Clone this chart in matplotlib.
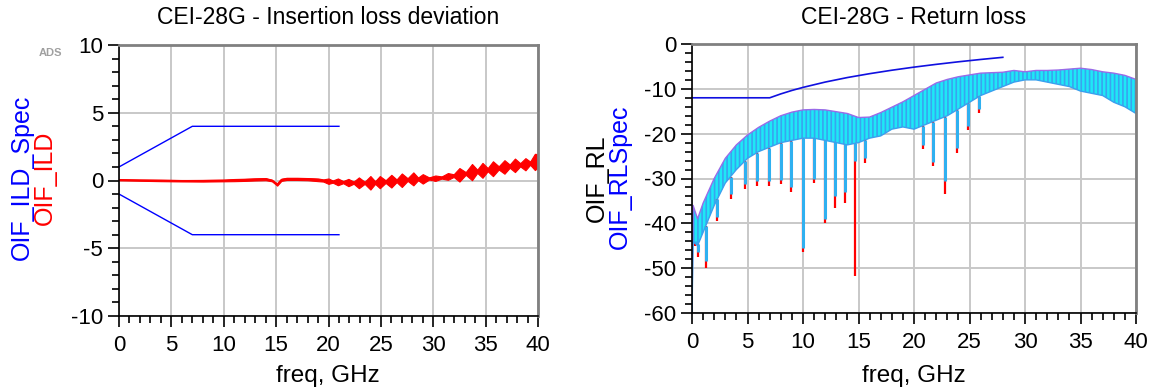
# -*- coding: utf-8 -*-
import matplotlib
matplotlib.use("Agg")
import matplotlib.pyplot as plt
import numpy as np
from matplotlib.ticker import MultipleLocator

plt.rcParams["font.family"] = ["Liberation Sans", "DejaVu Sans"]
plt.rcParams["axes.unicode_minus"] = False  # ADS prints a plain hyphen
plt.rcParams["hatch.linewidth"] = 1.2

# ---- Insertion loss deviation (left) ----
ild_spec_freq = [0, 7, 21]
ild_spec_upper = [1, 4, 4]
ild_spec_lower = [-1, -4, -4]

ild_freq = [0, 2, 4, 6, 8, 10, 11, 12, 13, 14,
            14.6, 15.1, 15.5, 16, 17, 18, 19, 19.5,
            20, 20.4, 20.9, 21.4, 21.9, 22.4, 22.9, 23.45, 24.0, 24.45,
            24.9, 25.45, 26.0, 26.5, 27.0, 27.55, 28.1, 28.55, 29.0, 29.6,
            30.2, 30.8, 31.4, 31.95, 32.5, 33.1, 33.7, 34.2, 34.7, 35.2,
            35.7, 36.25, 36.8, 37.3, 37.8, 38.3, 38.8, 39.25, 39.7, 40]
ild_mid = [0.05, 0.02, 0.0, -0.02, -0.02, 0.0, 0.03, 0.05, 0.08, 0.1,
           0.0, -0.3, 0.05, 0.12, 0.12, 0.1, 0.05, 0,
           -0.05, -0.08, -0.1, -0.12, -0.15, -0.16, -0.17, -0.17, -0.17, -0.15,
           -0.12, -0.08, -0.05, -0.02, 0.02, 0.07, 0.12, 0.12, 0.12, 0.15,
           0.17, 0.22, 0.3, 0.36, 0.42, 0.52, 0.62, 0.68, 0.75, 0.8,
           0.87, 0.93, 1.0, 1.06, 1.12, 1.16, 1.2, 1.28, 1.37, 1.45]
ild_half = [0.04, 0.04, 0.05, 0.05, 0.06, 0.06, 0.08, 0.08, 0.08, 0.08,
            0.06, 0.08, 0.08, 0.08, 0.08, 0.08, 0.1, 0.08,
            0.2, 0.08, 0.25, 0.08, 0.27, 0.08, 0.4, 0.08, 0.5, 0.1,
            0.45, 0.1, 0.47, 0.1, 0.5, 0.1, 0.48, 0.1, 0.35, 0.08,
            0.2, 0.08, 0.25, 0.1, 0.5, 0.1, 0.6, 0.12, 0.55, 0.12,
            0.55, 0.12, 0.5, 0.12, 0.5, 0.12, 0.45, 0.12, 0.6, 0.5]

# ---- Return loss (right) ----
rl_spec_freq = [0, 7, 8, 9, 10, 12, 14, 16, 18, 20, 22, 24, 26, 28]
rl_spec_db = [-12, -12, -11.13, -10.36, -9.68, -8.49, -7.48, -6.62,
              -5.85, -5.16, -4.54, -3.97, -3.45, -2.97]

rl_freq = [0, 0.1, 0.5, 1, 2, 3, 4, 5, 6, 7, 8, 9, 10, 11, 12, 13, 14, 15,
           16, 17, 18, 19, 20, 21, 22, 23, 24, 25, 26, 27, 28, 29, 30,
           31, 32, 33, 34, 35, 36, 37, 38, 39, 40]
rl_upper = [-60, -36, -39, -35.5, -30, -25.5, -22.5, -20.3, -18.6, -17.2, -16,
            -15.2, -14.7, -14.6, -14.7, -15.1, -15.5, -16.4, -16.3, -15.3, -14.1,
            -12.9, -11.5, -10.1, -8.7, -7.9, -7.3, -6.9, -6.5, -6.4, -6.3, -5.9,
            -6.2, -5.9, -5.9, -5.8, -5.6, -5.4, -5.7, -6.2, -6.5, -7.0, -7.9]
rl_band_low = [-60, -44, -45, -42, -36, -31, -28, -25.5, -24, -23, -22, -21.5,
               -21, -21, -21.5, -22, -22.5, -22, -21, -20.5, -19, -18.5, -19,
               -18, -17, -16, -14.5, -13, -11.5, -10.5, -9.5, -8.5, -8, -8,
               -8.5, -9, -9.5, -10.5, -11, -11.5, -13, -14, -15.5]

# deep resonance dips: deepest trace (red) and the cyan trace
rl_dip_freq = [0.25, 0.55, 1.23, 2.28, 3.48, 4.75, 5.86, 6.9, 8.0, 8.9, 10.0,
               11.0, 12.0, 12.9, 13.8, 14.7, 15.6, 20.8, 21.7, 22.8, 23.9, 24.9, 25.9]
rl_dip_red = [-45, -47.5, -50, -39.5, -34.5, -32.3, -31.6, -31.6, -31.3, -33, -46.3,
              -31, -40, -36.5, -35.5, -51.7, -26.5, -23.5, -27.3, -33.5, -24.3, -19.2, -15.5]
rl_dip_cyan = [-44, -46.5, -48.5, -38.5, -33.5, -31.3, -30.6, -30.6, -30.3, -32, -45.5,
               -30, -39, -34, -33, -26, -25.5, -22.5, -26.3, -30.5, -23.3, -18.2, -14.5]

fig = plt.figure(figsize=(11.52, 3.89), dpi=100)
ax_ild = fig.add_axes([119 / 1152, 1 - 316 / 389, 419 / 1152, 271 / 389])
ax_rl = fig.add_axes([692 / 1152, 1 - 313 / 389, 444 / 1152, 269 / 389])


def style_axes(ax, y_minor):
    ax.set_xlim(0, 40)
    ax.xaxis.set_major_locator(MultipleLocator(5))
    ax.xaxis.set_minor_locator(MultipleLocator(1))
    ax.yaxis.set_minor_locator(MultipleLocator(y_minor))
    ax.grid(True, which="major", color="#c8c8c8", linewidth=1.4)
    ax.set_axisbelow(True)
    ax.tick_params(axis="x", which="major", pad=6)
    ax.tick_params(which="major", direction="out", length=8, width=1.2,
                   labelsize=16, colors="black")
    ax.tick_params(which="minor", direction="out", length=5, width=1.2)
    for side in ("left", "bottom"):
        ax.spines[side].set_color("black")
        ax.spines[side].set_linewidth(1.2)
    for side in ("top", "right"):
        ax.spines[side].set_color("#808080")
        ax.spines[side].set_linewidth(2)


# left plot
ax_ild.plot(ild_spec_freq, ild_spec_upper, color="#0000ff", linewidth=1)
ax_ild.plot(ild_spec_freq, ild_spec_lower, color="#0000ff", linewidth=1)
ild_mid_arr = np.array(ild_mid)
ild_half_arr = np.array(ild_half)
ax_ild.fill_between(ild_freq, ild_mid_arr - ild_half_arr, ild_mid_arr + ild_half_arr,
                    facecolor="#ff0000", edgecolor="#ff0000", linewidth=0.8)
ax_ild.plot(ild_freq, ild_mid, color="#ff0000", linewidth=1.2)
ax_ild.set_ylim(-10, 10)
ax_ild.yaxis.set_major_locator(MultipleLocator(5))
style_axes(ax_ild, 1)

# right plot
band_at_dip = np.interp(rl_dip_freq, rl_freq, rl_band_low)
ax_rl.vlines(rl_dip_freq, rl_dip_red, band_at_dip, color="#ff0000", linewidth=1.6)
ax_rl.vlines(rl_dip_freq, rl_dip_cyan, band_at_dip, color="#2fb0f0", linewidth=2.2)
ax_rl.fill_between(rl_freq, rl_band_low, rl_upper, facecolor="#1ee8f6",
                   edgecolor="#38a4f0", hatch="||||", linewidth=0)
ax_rl.plot(rl_freq, rl_upper, color="#9a6be8", linewidth=1)
ax_rl.plot(rl_freq, rl_band_low, color="#3aa0ee", linewidth=1)
ax_rl.plot(rl_spec_freq, rl_spec_db, color="#1010e0", linewidth=1.2)
ax_rl.set_ylim(-60, 0)
ax_rl.yaxis.set_major_locator(MultipleLocator(10))
style_axes(ax_rl, 2)

# titles and axis labels
fig.text(328 / 1152, 1 - 18 / 389, "CEI-28G - Insertion loss deviation",
         ha="center", va="center", fontsize=16.5)
fig.text(914 / 1152, 1 - 18 / 389, "CEI-28G - Return loss",
         ha="center", va="center", fontsize=16.5)
fig.text(328 / 1152, 1 - 376 / 389, "freq, GHz", ha="center", va="center", fontsize=17.5)
fig.text(914 / 1152, 1 - 376 / 389, "freq, GHz", ha="center", va="center", fontsize=17.5)

fig.text(22 / 1152, 1 - 177 / 389, "OIF_ILD_Spec", color="#0000ff", rotation=90,
         ha="center", va="center", fontsize=18)
fig.text(45 / 1152, 1 - 178 / 389, "OIF_ILD", color="#ff0000", rotation=90,
         ha="center", va="center", fontsize=18)
fig.text(597 / 1152, 1 - 178 / 389, "OIF_RL", color="black", rotation=90,
         ha="center", va="center", fontsize=18)
fig.text(620 / 1152, 1 - 177 / 389, "OIF_RLSpec", color="#0000ff", rotation=90,
         ha="center", va="center", fontsize=18)

fig.text(50 / 1152, 1 - 53 / 389, "ADS", color="#a0a0a0", fontsize=8,
         fontweight="bold", ha="center", va="center")

fig.savefig("out.png", dpi=100)
